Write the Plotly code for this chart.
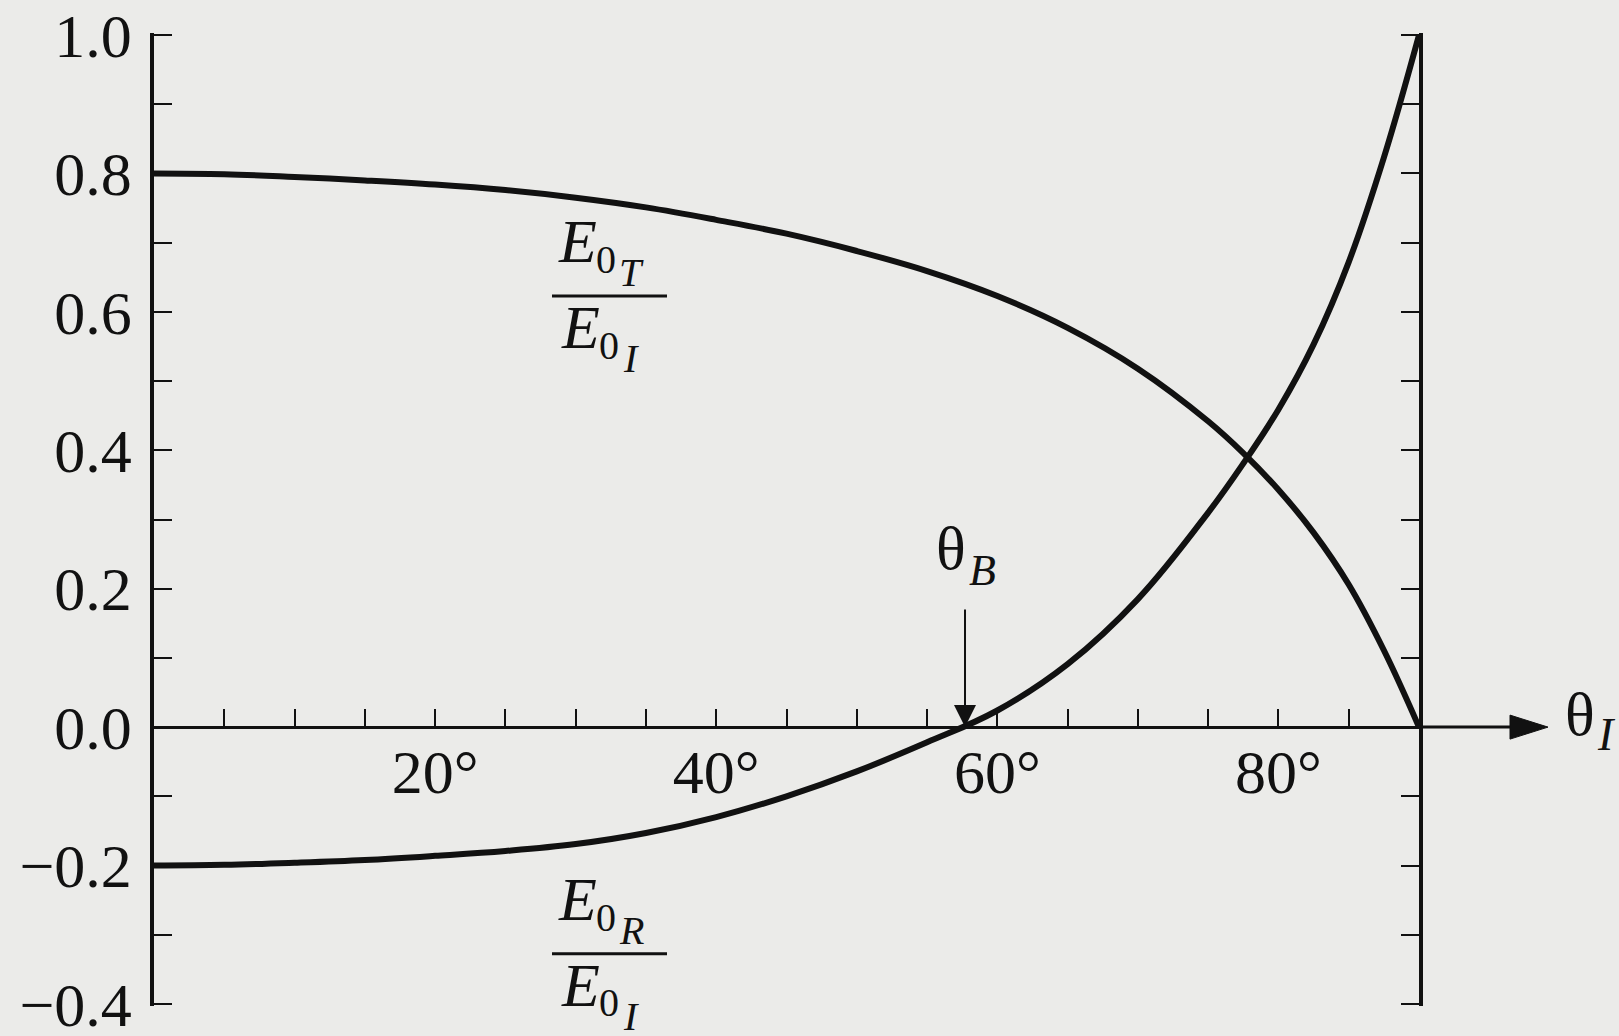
import plotly.graph_objects as go

# Angle of incidence, degrees
theta_i = [0, 5, 10, 15, 20, 25, 30, 35, 40, 45, 50, 55, 60, 65, 70,
           75, 77.5, 80, 82.5, 85, 87.5, 90]
# Transmitted amplitude ratio E0T / E0I
e_trans = [0.800, 0.799, 0.795, 0.790, 0.784, 0.776, 0.765, 0.751, 0.733, 0.713,
           0.688, 0.659, 0.623, 0.577, 0.518,
           0.442, 0.396, 0.343, 0.281, 0.206, 0.111, 0.0]
# Reflected amplitude ratio E0R / E0I
e_refl = [-0.200, -0.199, -0.196, -0.192, -0.186, -0.179, -0.169, -0.153, -0.130, -0.100,
          -0.064, -0.022, 0.024, 0.091, 0.185,
          0.310, 0.381, 0.459, 0.553, 0.672, 0.823, 1.0]
# Brewster's angle (reflected amplitude vanishes)
theta_brewster = 57.7

x_tick_vals = [20, 40, 60, 80]
x_tick_text = ["20°", "40°", "60°", "80°"]
y_tick_vals = [-0.4, -0.2, 0.0, 0.2, 0.4, 0.6, 0.8, 1.0]
y_tick_text = ["\u22120.4", "\u22120.2", "0.0", "0.2", "0.4", "0.6", "0.8", "1.0"]

X_RANGE = [0, 90]
Y_RANGE = [-0.4, 1.0]
EPS = 0.003  # keeps the end ticks inside the drawn range

W, H = 1619, 1036
ML, MR, MT, MB = 154, 200, 35, 32
PW, PH = W - ML - MR, H - MT - MB

INK = "#111111"
PAPER = "#ebebe9"
SERIF = "Liberation Serif"


def px(x):
    """page pixel -> paper fraction (horizontal)"""
    return (x - ML) / PW


def py(y):
    """page pixel -> paper fraction (vertical)"""
    return (H - MB - y) / PH


y_lo, y_hi = Y_RANGE[0] - EPS, Y_RANGE[1] + EPS
zero_frac = (0 - y_lo) / (y_hi - y_lo)

fig = go.Figure()
curve = dict(color=INK, width=6, shape="spline", smoothing=1.1)
fig.add_trace(go.Scatter(x=theta_i, y=e_trans, mode="lines", line=curve,
                         cliponaxis=False, hoverinfo="skip", showlegend=False))
fig.add_trace(go.Scatter(x=theta_i, y=e_refl, mode="lines", line=curve,
                         cliponaxis=False, hoverinfo="skip", showlegend=False))

tickfont = dict(family=SERIF, size=62, color=INK)

fig.update_layout(
    width=W, height=H,
    margin=dict(l=ML, r=MR, t=MT - 2, b=MB - 2, pad=0, autoexpand=False),
    paper_bgcolor=PAPER, plot_bgcolor=PAPER,
    xaxis=dict(
        range=X_RANGE, anchor="free", position=zero_frac, automargin=False,
        showline=True, linewidth=3, linecolor=INK,
        showgrid=False, zeroline=False,
        ticks="inside", ticklen=17, tickwidth=2.2, tickcolor=INK,
        tickmode="array", tickvals=x_tick_vals, ticktext=x_tick_text,
        minor=dict(tickmode="linear", tick0=0, dtick=5, ticks="inside",
                   ticklen=17, tickwidth=2.2, tickcolor=INK, showgrid=False),
        tickfont=tickfont, ticklabelstandoff=-11, ticklabeloverflow="allow",
    ),
    yaxis=dict(
        range=[y_lo, y_hi], anchor="x", automargin=False,
        showline=True, linewidth=3.5, linecolor=INK, mirror="ticks",
        showgrid=False, zeroline=False,
        ticks="inside", ticklen=18, tickwidth=2.4, tickcolor=INK,
        tickmode="array", tickvals=y_tick_vals, ticktext=y_tick_text,
        minor=dict(tickmode="linear", tick0=0, dtick=0.1, ticks="inside",
                   ticklen=18, tickwidth=2.4, tickcolor=INK, showgrid=False),
        tickfont=tickfont, ticklabelstandoff=6, ticklabeloverflow="allow",
    ),
)

# extension of the theta axis beyond 90 degrees, with an arrowhead
fig.add_shape(type="line", xref="paper", yref="paper",
              x0=1.0, x1=px(1514), y0=zero_frac, y1=zero_frac,
              line=dict(color=INK, width=3))
fig.add_shape(type="path", xref="paper", yref="paper",
              xsizemode="pixel", ysizemode="pixel",
              xanchor=px(1548), yanchor=zero_frac,
              path="M-38,-12 L0,0 L-38,12 Z",
              fillcolor=INK, line=dict(color=INK, width=1))

annotations = []


def label(text, x, y, size, italic=False):
    t = f"<i>{text}</i>" if italic else text
    annotations.append(dict(text=t, x=px(x), y=py(y), xref="paper", yref="paper",
                            xanchor="center", yanchor="middle", showarrow=False,
                            font=dict(family=SERIF, size=size, color=INK)))


# axis title theta_I
label("θ", 1580, 713, 62)
label("I", 1606, 734, 46, italic=True)

# Brewster angle marker
annotations.append(dict(text="", x=theta_brewster, y=0, xref="x", yref="y",
                        ax=0, ay=-119, showarrow=True, arrowhead=2,
                        arrowsize=2.2, arrowwidth=2, arrowcolor=INK))
label("θ", 951, 548, 62)
label("B", 982, 570, 44, italic=True)


def fraction(sub_top, y_bar):
    # numerator E_0<sub_top>
    label("E", 577, y_bar - 55, 62, italic=True)
    label("0", 606, y_bar - 36, 40)
    label(sub_top, 631, y_bar - 23, 40, italic=True)
    # denominator E_0I
    label("E", 580, y_bar + 31, 62, italic=True)
    label("0", 609, y_bar + 49, 40)
    label("I", 631, y_bar + 62, 40, italic=True)
    fig.add_shape(type="line", xref="paper", yref="paper",
                  x0=px(552), x1=px(667), y0=py(y_bar), y1=py(y_bar),
                  line=dict(color=INK, width=3))


fraction("T", 297)
fraction("R", 952)

fig.update_layout(annotations=annotations)

fig.write_html("out.html")
